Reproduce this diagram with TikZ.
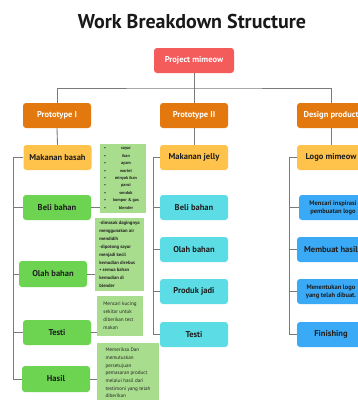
\documentclass[tikz,border=0pt]{standalone}
\usepackage{fontspec}
\setmainfont{PT Sans}

\definecolor{rootred}{HTML}{F45B5B}
\definecolor{phaseorange}{HTML}{E2780E}
\definecolor{itemyellow}{HTML}{FFC24B}
\definecolor{taskgreen}{HTML}{6DD452}
\definecolor{notegreen}{HTML}{A7DD8C}
\definecolor{taskcyan}{HTML}{5CDDE6}
\definecolor{taskblue}{HTML}{3AA9F6}
\definecolor{linegray}{HTML}{7A7A7A}

\newcommand{\noteitem}[1]{\textbullet\hspace{4pt}\makebox[32pt]{#1}}

\begin{document}
\begin{tikzpicture}[x=1pt,y=-1pt,
  box/.style={rounded corners=3pt, minimum width=68pt, minimum height=25pt,
    inner sep=1pt, align=center, text=black!88,
    font=\fontsize{8.5}{9}\selectfont\bfseries},
  rootbox/.style={box, fill=rootred, text=white, minimum width=80pt},
  phasebox/.style={box, fill=phaseorange, text=white},
  itembox/.style={box, fill=itemyellow},
  greenbox/.style={box, fill=taskgreen},
  cyanbox/.style={box, fill=taskcyan},
  bluebox/.style={box, fill=taskblue},
  notebox/.style={fill=notegreen, inner sep=2pt, align=left, text=black!85},
  link/.style={draw=linegray, line width=0.9pt}]
  \clip (0,0) rectangle (358,400);
  \fill[white] (0,0) rectangle (358,400);

  \node[font=\fontsize{20}{24}\selectfont\bfseries, text=black!90] (title) at (192,21) {Work Breakdown Structure};

  % top levels
  \node[rootbox] (root) at (194,60.5) {Project mimeow};
  \node[phasebox] (p1) at (57,115.5) {Prototype I};
  \node[phasebox] (p2) at (194,115.5) {Prototype II};
  \node[phasebox] (p3) at (331,115.5) {Design product};

  % prototype I
  \node[itembox] (mb1) at (57.5,157.5) {Makanan basah};
  \node[greenbox] (bb1) at (57,207.5) {Beli bahan};
  \node[greenbox, minimum height=26pt] (ob1) at (53,274) {Olah bahan};
  \node[greenbox] (ts1) at (57,332.5) {Testi};
  \node[greenbox, minimum height=26pt] (hs1) at (56,379) {Hasil};

  % prototype II
  \node[itembox] (mj2) at (194,157.5) {Makanan jelly};
  \node[cyanbox] (bb2) at (194,207.5) {Beli bahan};
  \node[cyanbox] (ob2) at (194,249.5) {Olah bahan};
  \node[cyanbox] (pj2) at (194,291.5) {Produk jadi};
  \node[cyanbox] (ts2) at (194,334.5) {Testi};

  % design product
  \node[itembox] (lm3) at (331,157.5) {Logo mimeow};
  \node[bluebox, font=\fontsize{6.5}{8}\selectfont\bfseries] (mi3) at (333,207.5) {Mencari inspirasi\\pembuatan logo};
  \node[bluebox] (mh3) at (331,249.5) {Membuat hasil};
  \node[bluebox, font=\fontsize{6.5}{8}\selectfont\bfseries] (ml3) at (331,291.5) {Menentukan logo\\yang telah dibuat.};
  \node[bluebox] (fn3) at (331,334.5) {Finishing};

  % notes
  \node[notebox, minimum width=46pt, minimum height=69pt,
    font=\fontsize{4.3}{7.4}\selectfont\bfseries] (n1) at (123,178.5)
    {\noteitem{sayur}\\\noteitem{ikan}\\\noteitem{ayam}\\\noteitem{wortel}\\\noteitem{minyak ikan}\\\noteitem{panci}\\\noteitem{sendok}\\\noteitem{kompor \& gas}\\\noteitem{blender}};
  \node[notebox, minimum width=49pt, minimum height=73pt,
    font=\fontsize{4.7}{7.9}\selectfont\bfseries] (n2) at (119.5,254.5)
    {-dimasak dagingnya\\menggunakan air\\mendidih\\-dipotong sayur\\menjadi kecil\\kemudian direbus\\\textbullet{} semua bahan\\kemudian di\\blender};
  \node[notebox, minimum width=46pt, minimum height=40pt,
    font=\fontsize{5.1}{8}\selectfont] (n3) at (120,316)
    {Mencari kucing\\sekitar untuk\\diberikan test\\makan};
  \node[notebox, minimum width=62pt, minimum height=60pt,
    font=\fontsize{5.1}{7.7}\selectfont] (n4) at (128,373)
    {Memeriksa Dan\\memutuskan\\persetujuan\\pemasaran product\\melalui hasil dari\\testimoni yang telah\\diberikan};

  % connectors
  \coordinate (bus) at (194,88);
  \draw[link] (root.south) -- (bus);
  \draw[link] (p1.north) |- (bus) -| (p3.north);
  \draw[link] (bus) -- (p2.north);
  \draw[link] (p1.south) -- (mb1.north);
  \draw[link] (p2.south) -- (mj2.north);
  \draw[link] (p3.south) -- (lm3.north);

  \coordinate (s1) at (13,0);
  \coordinate (s2) at (153,0);
  \coordinate (s3) at (289,0);
  \draw[link] (mb1.west) -- (mb1.west -| s1) -- (hs1.west -| s1) -- (hs1.west);
  \draw[link] (mj2.west) -- (mj2.west -| s2) -- (ts2.west -| s2) -- (ts2.west);
  \draw[link] (lm3.west) -- (lm3.west -| s3) -- (fn3.west -| s3) -- (fn3.west);
  \foreach \n in {bb1,ob1,ts1} \draw[link] (\n.west) -- (\n.west -| s1);
  \foreach \n in {bb2,ob2,pj2} \draw[link] (\n.west) -- (\n.west -| s2);
  \foreach \n in {mi3,mh3,ml3} \draw[link] (\n.west) -- (\n.west -| s3);

  \draw[link] (bb1.east) -- (bb1.east -| n1.west);
  \draw[link] (ob1.east) -- (ob1.east -| n2.west);
  \draw[link] (ts1.east) -- (ts1.east -| n3.west);
  \draw[link] (hs1.east) -- (hs1.east -| n4.west);
\end{tikzpicture}
\end{document}
